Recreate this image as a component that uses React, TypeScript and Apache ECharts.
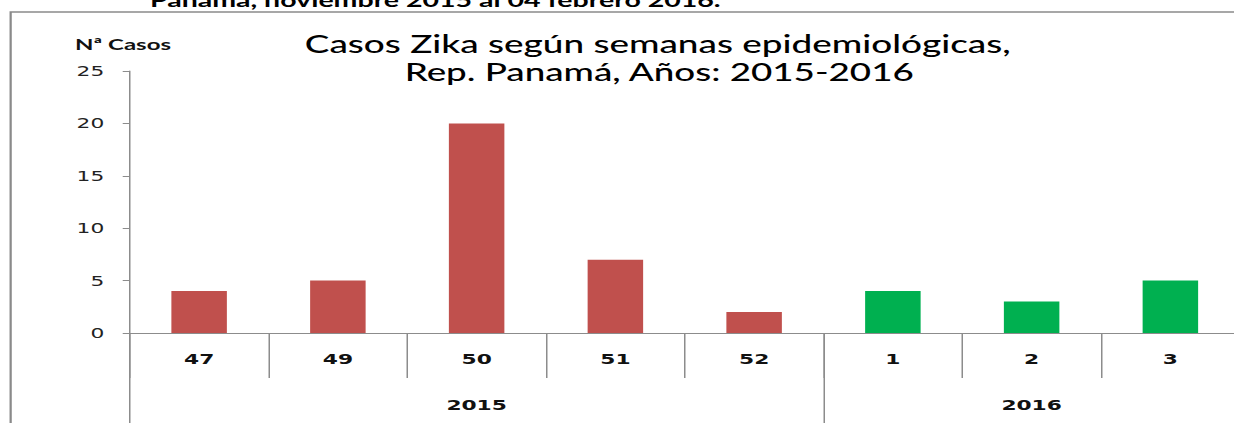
import React, { useEffect, useRef } from "react";
import * as echarts from "echarts";

// ---- data ----
const weeks = ["47", "49", "50", "51", "52", "1", "2", "3"];
const cases = [4, 5, 20, 7, 2, 4, 3, 5];
const years = ["2015", "2016"];
const weeksPerYear = [5, 3];
const yMax = 25;
const yStep = 5;

const titleLines = ["Casos Zika según semanas epidemiológicas,", "Rep. Panamá, Años: 2015-2016"];
const topCaption = "Panamá, noviembre 2015 al 04 febrero 2016.";
const yName = "Nª Casos";

// ---- styles ----
const yearColors = ["#C0504D", "#00B050"];
const AXIS = "#8C8C8C";
const S = 1.5; // horizontal stretch of the original picture
const W = 1234 / S + 10; // slightly wider than the window; the plot runs past the right edge
const H = 423;

// derived: year label slots and boundary indices
const yearSlots: string[] = [];
const yearStarts: number[] = [];
const weekYear: number[] = [];
years.forEach((y, yi) => {
  const n = weeksPerYear[yi];
  yearStarts.push(yearSlots.length);
  for (let k = 0; k < n; k++) {
    yearSlots.push(k === Math.floor((n - 1) / 2) ? y : "");
    weekYear.push(yi);
  }
});

export default function App() {
  const ref = useRef<HTMLDivElement>(null);
  useEffect(() => {
    document.body.style.margin = "0";
    document.body.style.overflow = "hidden";
    document.documentElement.style.overflow = "hidden";
    const chart = echarts.init(ref.current!, null, { renderer: "svg", width: W, height: H });
    chart.setOption({
      animation: false,
      backgroundColor: "#ffffff",
      grid: { left: 86.5, top: 71, width: 1110 / S, height: 262, outerBoundsMode: "none", containLabel: false },
      yAxis: {
        type: "value",
        min: 0,
        max: yMax,
        interval: yStep,
        splitLine: { show: false },
        axisLine: { show: true, lineStyle: { color: AXIS, width: 1 } },
        axisTick: { show: true, length: 4.7, lineStyle: { color: AXIS } },
        axisLabel: { fontFamily: "DejaVu Sans", fontSize: 14.5, color: "#222", margin: 17 },
      },
      xAxis: [
        {
          type: "category",
          data: weeks,
          position: "bottom",
          axisLine: { show: true, lineStyle: { color: AXIS, width: 1 } },
          axisTick: { show: true, length: 45, interval: 0, lineStyle: { color: AXIS } },
          axisLabel: {
            interval: 0,
            fontFamily: "DejaVu Sans",
            fontWeight: "bold",
            fontSize: 14.5,
            color: "#111",
            margin: 18.5,
          },
        },
        {
          type: "category",
          data: yearSlots,
          position: "bottom",
          axisLine: { show: false },
          axisTick: {
            show: true,
            length: 92,
            interval: (i: number) => yearStarts.includes(i),
            lineStyle: { color: AXIS },
          },
          axisLabel: {
            interval: 0,
            fontFamily: "DejaVu Sans",
            fontWeight: "bold",
            fontSize: 14.5,
            color: "#111",
            margin: 64.5,
          },
        },
      ],
      series: [
        {
          type: "bar",
          xAxisIndex: 0,
          barWidth: "40%",
          data: cases.map((v, i) => ({ value: v, itemStyle: { color: yearColors[weekYear[i]] } })),
        },
      ],
      graphic: [
        {
          type: "polyline",
          shape: { points: [[7.1, H + 5], [7.1, 12], [W + 10, 12]] },
          style: { stroke: "#8A8A8A", lineWidth: 1.5, fill: null },
        },
        {
          type: "text",
          x: 100,
          y: -0.3,
          style: { text: topCaption, fontFamily: "Lato", fontWeight: "bold", fontSize: 19, fill: "#000", align: "left", verticalAlign: "middle" },
        },
        {
          type: "text",
          x: 50,
          y: 44,
          style: { text: yName, fontFamily: "Lato", fontWeight: "bold", fontSize: 16, fill: "#111", align: "left", verticalAlign: "middle" },
        },
        {
          type: "text",
          x: 438.5,
          y: 43.5,
          style: { text: titleLines[0], fontFamily: "Lato", fontWeight: 500, fontSize: 24.6, fill: "#000", align: "center", verticalAlign: "middle" },
        },
        {
          type: "text",
          x: 439.5,
          y: 71.5,
          style: { text: titleLines[1], fontFamily: "Lato", fontWeight: 500, fontSize: 24.5, fill: "#000", align: "center", verticalAlign: "middle" },
        },
      ],
    });
    return () => chart.dispose();
  }, []);
  return (
    <div
      ref={ref}
      style={{
        position: "fixed",
        left: 0,
        top: 0,
        width: W,
        height: H,
        overflow: "hidden",
        transform: `scaleX(${S})`,
        transformOrigin: "0 0",
        background: "#fff",
      }}
    />
  );
}
